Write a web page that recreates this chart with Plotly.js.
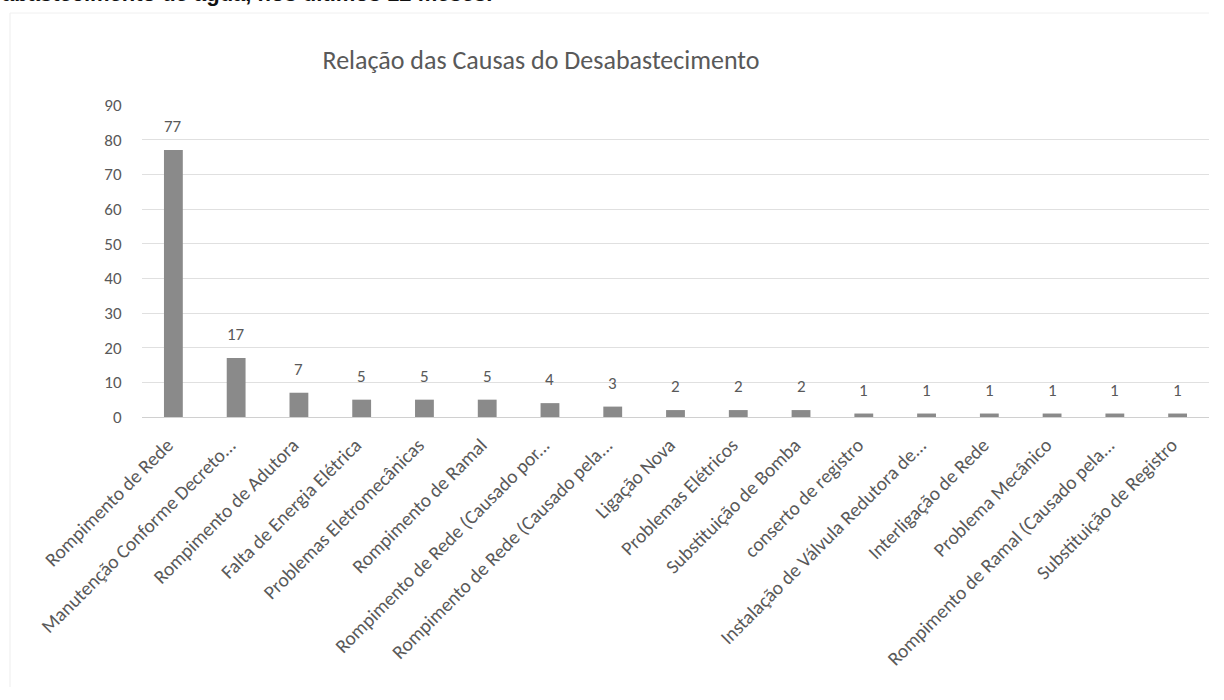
<!DOCTYPE html>
<html>
<head>
<meta charset="utf-8">
<script src="https://cdn.plot.ly/plotly-3.0.1.min.js"></script>
<style>html,body{margin:0;padding:0;background:#fff;}#chart{width:1224px;height:700px;}</style>
</head>
<body>
<div id="chart"></div>
<script>
const categories = [
  "Rompimento de Rede",
  "Manutenção Conforme Decreto...",
  "Rompimento de Adutora",
  "Falta de Energia Elétrica",
  "Problemas Eletromecânicas",
  "Rompimento de Ramal",
  "Rompimento de Rede (Causado por...",
  "Rompimento de Rede (Causado pela...",
  "Ligação Nova",
  "Problemas Elétricos",
  "Substituição de Bomba",
  "conserto de registro",
  "Instalação de Válvula Redutora de...",
  "Interligação de Rede",
  "Problema Mecânico",
  "Rompimento de Ramal (Causado pela...",
  "Substituição de Registro"
];
const values = [77, 17, 7, 5, 5, 5, 4, 3, 2, 2, 2, 1, 1, 1, 1, 1, 1];
const yTicks = [0, 10, 20, 30, 40, 50, 60, 70, 80, 90];
const chartTitle = "Relação das Causas do Desabastecimento";
const headerText = "abastecimento de água, nos últimos 12 meses.";

const FONT = "Carlito, Lato, 'Open Sans', sans-serif";
const TXT = "#595959";

const data = [{
  type: "bar",
  x: categories,
  y: values,
  marker: {color: "#8a8a8a", line: {width: 0}},
  hoverinfo: "x+y"
}];

const valueLabels = categories.map((c, i) => ({
  x: c, y: values[i], xref: "x", yref: "y",
  text: String(values[i]),
  showarrow: false,
  yanchor: "bottom", xanchor: "center",
  yshift: 11,
  font: {family: FONT, size: 17, color: TXT}
}));

const layout = {
  width: 1224,
  height: 700,
  paper_bgcolor: "#fff",
  plot_bgcolor: "#fff",
  margin: {l: 142, r: 15, t: 105, b: 283},
  bargap: 0.7,
  showlegend: false,
  title: {
    text: chartTitle,
    font: {family: FONT, size: 26, color: TXT},
    x: 541/1224, xref: "container", xanchor: "center",
    y: 1 - 60/700, yref: "container", yanchor: "middle"
  },
  xaxis: {
    type: "category",
    tickangle: -45,
    tickfont: {family: FONT, size: 19.5, color: TXT},
    ticklabelshift: -6,
    ticklabelstandoff: 8,
    showgrid: false,
    showline: true,
    linecolor: "#d0d0d0",
    linewidth: 1,
    ticks: "",
    automargin: false
  },
  yaxis: {
    range: [0, 90],
    tickvals: yTicks,
    ticktext: yTicks.map(String),
    tickfont: {family: FONT, size: 17, color: TXT},
    showgrid: true,
    gridcolor: "#e0e0e0",
    gridwidth: 1,
    zeroline: false,
    showline: false,
    ticks: "outside",
    ticklen: 16,
    tickcolor: "rgba(0,0,0,0)",
    automargin: false
  },
  annotations: valueLabels.concat([{
    text: "<b>" + headerText + "</b>",
    xref: "paper", yref: "paper",
    x: -142/1067, y: 1 + (105 + 6)/312,
    xanchor: "left", yanchor: "middle",
    showarrow: false,
    font: {family: "'Liberation Sans', Arial, sans-serif", size: 22, color: "#111"}
  }]),
  shapes: [
    {type: "line", xref: "paper", yref: "paper",
     x0: -132/1067, x1: -132/1067, y0: -270/312, y1: 1 + 92/312,
     line: {color: "#ededed", width: 1}, layer: "below"},
    {type: "line", xref: "paper", yref: "paper",
     x0: -132/1067, x1: 1, y0: 1 + 92/312, y1: 1 + 92/312,
     line: {color: "#f0f0f0", width: 1}, layer: "below"}
  ]
};

Plotly.newPlot("chart", data, layout, {displayModeBar: false, staticPlot: true});
</script>
</body>
</html>
